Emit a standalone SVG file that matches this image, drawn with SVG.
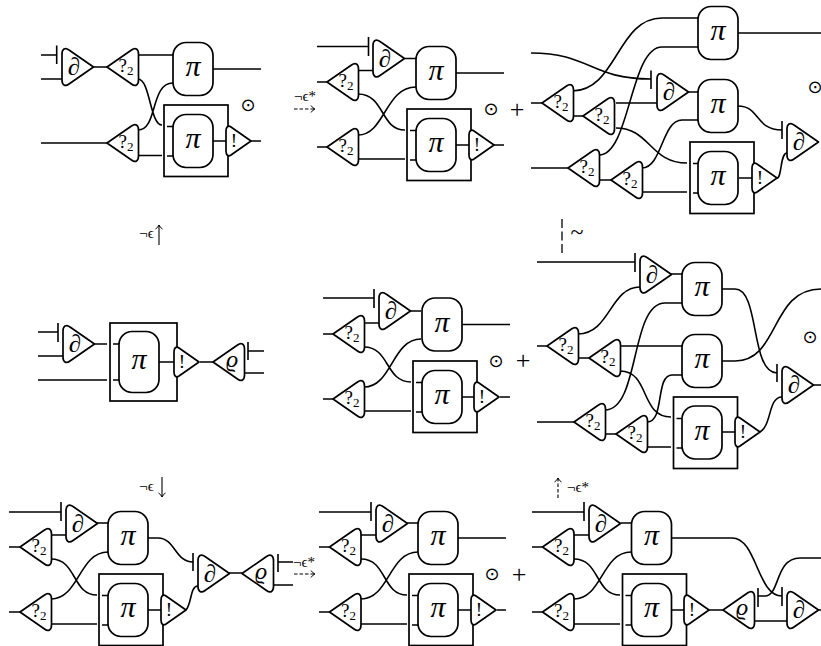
<svg xmlns="http://www.w3.org/2000/svg" width="821" height="646" viewBox="0 0 821 646">
<style>
text{font-family:"Liberation Serif","DejaVu Serif",serif;fill:#000;text-anchor:middle}
.w path,.w{fill:none;stroke:#000;stroke-width:1.6}
.n{fill:#fff;stroke:#000;stroke-width:1.7;stroke-linejoin:round}
.b{fill:none;stroke:#000;stroke-width:1.7}
.pi{font-size:30px;font-style:italic}
.d{font-size:25px;font-style:italic}
.q{font-size:19px}
.q tspan{font-size:13px}
.e{font-size:19px}
.r{font-size:24px;font-style:italic}
.o{font-family:"DejaVu Sans",sans-serif;font-size:18px}
.p{font-size:26px}
.l{font-size:15px}
.a{fill:none;stroke:#000;stroke-width:1.1}
</style>
<defs>
<marker id="h" markerUnits="userSpaceOnUse" markerWidth="8" markerHeight="10" refX="6" refY="5" orient="auto"><path d="M2 1.5Q3.5 4 6 5Q3.5 6 2 8.5" fill="none" stroke="#000" stroke-width="1"/></marker>
<path id="tr" class="n" d="M0 -13C0 -18 3 -20 7 -17L31.5 0L7 17C3 20 0 18 0 13Z"/>
<path id="tl" class="n" d="M0 0L24.5 -17C28.5 -20 31.5 -18 31.5 -13L31.5 13C31.5 18 28.5 20 24.5 17Z"/>
<path id="ex" class="n" d="M0 -10C0 -14 2 -16 5 -14L25 0L5 14C2 16 0 14 0 10Z"/>
<rect id="pb" class="n" x="-20" y="-26.5" width="40" height="53" rx="13"/>
<rect id="mb" class="b" x="0" y="0" width="64" height="71.500"/>
<path id="st" class="b" d="M3 21.500H9M3 51H9"/>
</defs>
<g id="connectors" class="w">
<path d="M41 55H56.700M56.700 45.500V64M41 79H62M93 67H107M138 55H173M138 79C150 79 150 125 162 125M173 83C150 83 158 130 138 130M41 143H107M138 155.500H162M213 69H261M213 141H226M251 141H261"/>
<path d="M317 46.500H368.500M368.500 37V56M405 58.500H416M317 82H327M358 70.500H373M317 147H327M358 94C385 94 380 130 405 130M358 135C385 135 385 87 416 87M358 159H405M456 73H504M456 145H469M494 145H504"/>
<path d="M698 18H662C617 18 617 91 572 91M698 47H662C630 47 630 155 599 155M531 53C590 53 590 79 651 79M651 70.500V89M616 103H657M531 103H542M572 116H583M688 92H698M616 128C650 128 650 163 687 163M531 168H568M599 180H611M642 168C662 168 662 120 682 120H698M642 192H687M738 33H821M738 106C760 106 755 130 782 130M782 121V139M777 178C782 178 780 153 787 153M739 178H752"/>
<path d="M38 332H58M58 323V342M38 356H63M95 344H107M38 380H107M159 362H174M200 362H213M248 342V360M248 351H264M243 373H264"/>
<path d="M323 298H374M374 289V308M411 311H421M323 334H333M364 323H379M323 399H333M364 347C390 347 385 382 411 382M364 387C392 387 392 339 421 339M364 411H411M462 324.500H510M462 397H474M500 397H510"/>
<path d="M537 262H635M635 253V272M671 274H682M537 346H547M578 358H589M578 334C610 334 610 287 640 287M620 346H682M620 371C650 371 640 417 671 417M537 422H574M605 434H616M605 410C640 410 630 303 665 303H682M647 422C665 422 655 375 672 375H682M647 447H671M722 289H735C760 289 750 373 777 373M777 364V382M722 361H735C780 361 770 289 821 289M760 432C772 425 768 397 782 397M813 385H821M722 432H735"/>
<path d="M9 512H61M61 502V521M97 523H108M9 547H20M51 535H66M9 612H20M51 559C77 559 72 595 97 595M51 599C79 599 79 552 108 552M51 624H97M148 538H158C175 538 175 562 193 562M193 553V571M186 610C192 603 190 586 198 586M148 610H161M229 573H242M278 554V572M278 562H293M273 585H293"/>
<path d="M319 512H371M371 502V521M407 523H418M319 547H329M361 535H376M319 612H329M361 559C387 559 382 595 407 595M361 599C389 599 389 552 418 552M361 624H407M458 538H506M458 610H471M497 610H506"/>
<path d="M532 512H584M584 502V521M621 523H631M532 547H542M574 535H589M532 612H542M574 559C600 559 595 595 620 595M574 599C602 599 602 552 631 552M574 624H620M672 538H732C757 538 757 596 782 596M782 587V606M672 610H684M709 610H723M758 588V607M758 596H765C780 596 775 558 800 558H821M754 621H787M818 610H821"/>
<path class="a" style="stroke-width:1.1;stroke-dasharray:3.500 2" marker-end="url(#h)" d="M294 109H315"/>
<path class="a" style="stroke-width:1.1;stroke-dasharray:3.500 2" marker-end="url(#h)" d="M294 574H315"/>
<path class="a" style="stroke-width:1.1;stroke-dasharray:3.500 2" marker-end="url(#h)" d="M558 498V478"/>
<path class="a" style="stroke-width:1.3;stroke-dasharray:9 3.500" d="M562 219V253"/>
<path class="a" style="stroke-width:1.100" marker-end="url(#h)" d="M159 245V225"/>
<path class="a" style="stroke-width:1.100" marker-end="url(#h)" d="M162 477V497"/>
</g>

<g id="a-par" transform="translate(62,67)"><use href="#tr"/><text class="d" x="12" y="8">∂</text></g>
<g id="a-q1" transform="translate(107,67)"><use href="#tl"/><text class="q" x="19" y="5">?<tspan dy="3">2</tspan></text></g>
<g id="a-q2" transform="translate(107,143)"><use href="#tl"/><text class="q" x="19" y="5">?<tspan dy="3">2</tspan></text></g>
<g id="a-pi" transform="translate(193,69)"><use href="#pb"/><text class="pi" y="7">π</text></g>
<g id="a-box" transform="translate(164,105)"><use href="#mb"/><use href="#st"/></g>
<g id="a-pi2" transform="translate(193,141)"><use href="#pb"/><text class="pi" y="7">π</text></g>
<g id="a-ex" transform="translate(226,141)"><use href="#ex"/><text class="e" x="8" y="6">!</text></g>

<g id="b-par" transform="translate(373,58.500)"><use href="#tr"/><text class="d" x="12" y="8">∂</text></g>
<g id="b-q1" transform="translate(327,82)"><use href="#tl"/><text class="q" x="19" y="5">?<tspan dy="3">2</tspan></text></g>
<g id="b-q2" transform="translate(327,147)"><use href="#tl"/><text class="q" x="19" y="5">?<tspan dy="3">2</tspan></text></g>
<g id="b-pi" transform="translate(436,73)"><use href="#pb"/><text class="pi" y="7">π</text></g>
<g id="b-box" transform="translate(407,109)"><use href="#mb"/><use href="#st"/></g>
<g id="b-pi2" transform="translate(436,145)"><use href="#pb"/><text class="pi" y="7">π</text></g>
<g id="b-ex" transform="translate(469,145)"><use href="#ex"/><text class="e" x="8" y="6">!</text></g>

<g id="c-q1" transform="translate(542,103)"><use href="#tl"/><text class="q" x="19" y="5">?<tspan dy="3">2</tspan></text></g>
<g id="c-q2" transform="translate(583,116)"><use href="#tl"/><text class="q" x="19" y="5">?<tspan dy="3">2</tspan></text></g>
<g id="c-q3" transform="translate(568,168)"><use href="#tl"/><text class="q" x="19" y="5">?<tspan dy="3">2</tspan></text></g>
<g id="c-q4" transform="translate(611,180)"><use href="#tl"/><text class="q" x="19" y="5">?<tspan dy="3">2</tspan></text></g>
<g id="c-par" transform="translate(657,92)"><use href="#tr"/><text class="d" x="12" y="8">∂</text></g>
<g id="c-pi1" transform="translate(718,33)"><use href="#pb"/><text class="pi" y="7">π</text></g>
<g id="c-pi2" transform="translate(718,106)"><use href="#pb"/><text class="pi" y="7">π</text></g>
<g id="c-box" transform="translate(690,142)"><use href="#mb"/><use href="#st"/></g>
<g id="c-pi3" transform="translate(718,178)"><use href="#pb"/><text class="pi" y="7">π</text></g>
<g id="c-ex" transform="translate(752,178)"><use href="#ex"/><text class="e" x="8" y="6">!</text></g>
<g id="c-par2" transform="translate(787,142)"><use href="#tr"/><text class="d" x="12" y="8">∂</text></g>

<g id="d-par" transform="translate(63,344)"><use href="#tr"/><text class="d" x="12" y="8">∂</text></g>
<g id="d-box" transform="translate(110,323)"><rect class="b" width="67" height="78"/><path class="b" d="M3 21H9M3 57H9"/></g>
<g id="d-pi" transform="translate(139,362)"><rect class="n" x="-20" y="-30.500" width="40" height="61" rx="13"/><text class="pi" y="7">π</text></g>
<g id="d-ex" transform="translate(174,362)"><use href="#ex"/><text class="e" x="8" y="6">!</text></g>
<g id="d-rho" transform="translate(213,362)"><use href="#tl"/><text class="r" x="19" y="5">ϱ</text></g>

<g id="e-par" transform="translate(379,311)"><use href="#tr"/><text class="d" x="12" y="8">∂</text></g>
<g id="e-q1" transform="translate(333,334)"><use href="#tl"/><text class="q" x="19" y="5">?<tspan dy="3">2</tspan></text></g>
<g id="e-q2" transform="translate(333,399)"><use href="#tl"/><text class="q" x="19" y="5">?<tspan dy="3">2</tspan></text></g>
<g id="e-pi" transform="translate(442,324.500)"><use href="#pb"/><text class="pi" y="7">π</text></g>
<g id="e-box" transform="translate(413,361)"><use href="#mb"/><use href="#st"/></g>
<g id="e-pi2" transform="translate(442,397)"><use href="#pb"/><text class="pi" y="7">π</text></g>
<g id="e-ex" transform="translate(474,397)"><use href="#ex"/><text class="e" x="8" y="6">!</text></g>

<g id="f-q1" transform="translate(547,346)"><use href="#tl"/><text class="q" x="19" y="5">?<tspan dy="3">2</tspan></text></g>
<g id="f-q2" transform="translate(589,358)"><use href="#tl"/><text class="q" x="19" y="5">?<tspan dy="3">2</tspan></text></g>
<g id="f-q3" transform="translate(574,422)"><use href="#tl"/><text class="q" x="19" y="5">?<tspan dy="3">2</tspan></text></g>
<g id="f-q4" transform="translate(616,434)"><use href="#tl"/><text class="q" x="19" y="5">?<tspan dy="3">2</tspan></text></g>
<g id="f-par" transform="translate(640,274.500)"><use href="#tr"/><text class="d" x="12" y="8">∂</text></g>
<g id="f-pi1" transform="translate(702,289)"><use href="#pb"/><text class="pi" y="7">π</text></g>
<g id="f-pi2" transform="translate(702,361)"><use href="#pb"/><text class="pi" y="7">π</text></g>
<g id="f-box" transform="translate(673.500,397)"><use href="#mb"/><use href="#st"/></g>
<g id="f-pi3" transform="translate(702,432.500)"><use href="#pb"/><text class="pi" y="7">π</text></g>
<g id="f-ex" transform="translate(735,432)"><use href="#ex"/><text class="e" x="8" y="6">!</text></g>
<g id="f-par2" transform="translate(782,385)"><use href="#tr"/><text class="d" x="12" y="8">∂</text></g>

<g id="g-par" transform="translate(66,523.500)"><use href="#tr"/><text class="d" x="12" y="8">∂</text></g>
<g id="g-q1" transform="translate(20,547)"><use href="#tl"/><text class="q" x="19" y="5">?<tspan dy="3">2</tspan></text></g>
<g id="g-q2" transform="translate(20,612)"><use href="#tl"/><text class="q" x="19" y="5">?<tspan dy="3">2</tspan></text></g>
<g id="g-pi" transform="translate(128,538)"><use href="#pb"/><text class="pi" y="7">π</text></g>
<g id="g-box" transform="translate(99,574)"><use href="#mb"/><use href="#st"/></g>
<g id="g-pi2" transform="translate(128,610)"><use href="#pb"/><text class="pi" y="7">π</text></g>
<g id="g-ex" transform="translate(161,610)"><use href="#ex"/><text class="e" x="8" y="6">!</text></g>
<g id="g-par2" transform="translate(198,573.500)"><use href="#tr"/><text class="d" x="12" y="8">∂</text></g>
<g id="g-rho" transform="translate(242,573.500)"><use href="#tl"/><text class="r" x="19" y="5">ϱ</text></g>

<g id="h-par" transform="translate(376,523.500)"><use href="#tr"/><text class="d" x="12" y="8">∂</text></g>
<g id="h-q1" transform="translate(329.500,547)"><use href="#tl"/><text class="q" x="19" y="5">?<tspan dy="3">2</tspan></text></g>
<g id="h-q2" transform="translate(329.500,612)"><use href="#tl"/><text class="q" x="19" y="5">?<tspan dy="3">2</tspan></text></g>
<g id="h-pi" transform="translate(438,538)"><use href="#pb"/><text class="pi" y="7">π</text></g>
<g id="h-box" transform="translate(409,574)"><use href="#mb"/><use href="#st"/></g>
<g id="h-pi2" transform="translate(438,610)"><use href="#pb"/><text class="pi" y="7">π</text></g>
<g id="h-ex" transform="translate(471,610)"><use href="#ex"/><text class="e" x="8" y="6">!</text></g>

<g id="i-par" transform="translate(589,523.500)"><use href="#tr"/><text class="d" x="12" y="8">∂</text></g>
<g id="i-q1" transform="translate(542.500,547)"><use href="#tl"/><text class="q" x="19" y="5">?<tspan dy="3">2</tspan></text></g>
<g id="i-q2" transform="translate(542.500,612)"><use href="#tl"/><text class="q" x="19" y="5">?<tspan dy="3">2</tspan></text></g>
<g id="i-pi" transform="translate(651.500,538)"><use href="#pb"/><text class="pi" y="7">π</text></g>
<g id="i-box" transform="translate(622.500,574)"><use href="#mb"/><use href="#st"/></g>
<g id="i-pi2" transform="translate(651.500,610)"><use href="#pb"/><text class="pi" y="7">π</text></g>
<g id="i-ex" transform="translate(684,610)"><use href="#ex"/><text class="e" x="8" y="6">!</text></g>
<g id="i-rho" transform="translate(723,610)"><use href="#tl"/><text class="r" x="19" y="5">ϱ</text></g>
<g id="i-par2" transform="translate(787,610)"><use href="#tr"/><text class="d" x="12" y="8">∂</text></g>

<g id="labels">
<text class="o" x="248" y="111">⊙</text>
<text class="o" x="491" y="115">⊙</text>
<text class="p" x="517" y="118">+</text>
<text class="o" x="815" y="93">⊙</text>
<text class="o" x="810" y="343">⊙</text>
<text class="o" x="496" y="367">⊙</text>
<text class="p" x="523" y="369">+</text>
<text class="o" x="492" y="580">⊙</text>
<text class="p" x="519" y="583">+</text>
<text class="l" x="305" y="101">¬ϵ*</text>
<text class="l" x="146.500" y="238">¬ϵ</text>
<text class="l" x="146.500" y="491">¬ϵ</text>
<text class="l" x="304" y="567">¬ϵ*</text>
<text class="l" x="578" y="492">¬ϵ*</text>
<text x="577" y="240" style="font-size:24px">~</text>
</g>
</svg>
